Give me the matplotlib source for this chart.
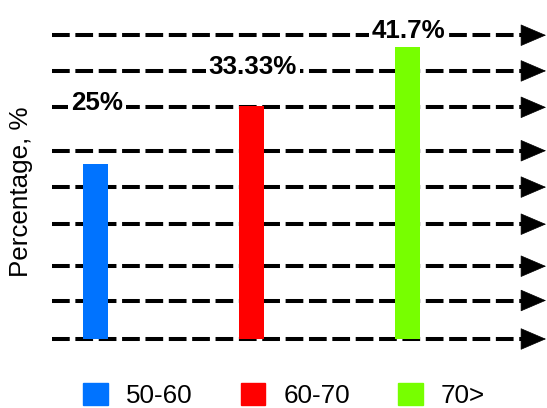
import matplotlib.pyplot as plt
from matplotlib.patches import Patch

# dados do gráfico
groups = ['50-60', '60-70', '70>']
percentages = [25, 33.33, 41.7]
value_labels = ['25%', '33.33%', '41.7%']
colors = ['#0073ff', '#ff0000', '#77ff00']
guide_levels = [0, 5.5, 10.4, 16.4, 21.7, 26.9, 33.1, 38.3, 43.4]

plt.rcParams['font.family'] = ['Liberation Sans', 'DejaVu Sans']

fig = plt.figure(figsize=(5.47, 4.08), dpi=100)
ax = fig.add_axes([52 / 547, 63 / 408, 495 / 547, 330 / 408])
ax.set_xlim(-0.279, 2.894)
ax.set_ylim(-0.857, 46.29)

# linhas tracejadas com setas
for y in guide_levels:
    ax.axhline(y, xmin=0, xmax=0.965, color='black', lw=2.9,
               dashes=(4.4, 1.4), zorder=1)
    ax.annotate('', xy=(0.998, y), xycoords=('axes fraction', 'data'),
                xytext=(-17.3, 0), textcoords='offset points',
                arrowprops=dict(arrowstyle='-|>,head_length=17.3,head_width=7.4',
                                mutation_scale=1, color='black', lw=0.5,
                                shrinkA=0, shrinkB=0),
                annotation_clip=False, zorder=1)

x = list(range(len(groups)))
ax.bar(x, percentages, width=0.16, color=colors, zorder=3)

# rótulos em cima das linhas
label_rows = [6, 7, 8]
for i, txt in enumerate(value_labels):
    ax.annotate(txt, xy=(x[i], guide_levels[label_rows[i]]),
                xytext=(1, 3), textcoords='offset points',
                ha='center', va='center', fontsize=18.7, fontweight='bold',
                zorder=4, bbox=dict(facecolor='white', edgecolor='none', pad=2))

ax.set_xticks([])
ax.set_yticks([])
for s in ax.spines.values():
    s.set_visible(False)

ax.set_ylabel('Percentage, %', fontsize=18.7, va='center')
ax.yaxis.set_label_coords(-0.063, 0.464)

handles = [Patch(color=c, label=g) for g, c in zip(groups, colors)]
fig.legend(handles=handles, loc='lower left', bbox_to_anchor=(83 / 547, 0.0),
           ncol=3, frameon=False, fontsize=18.7, handlelength=0.96,
           handleheight=0.96, handletextpad=0.69, columnspacing=1.85,
           borderpad=0, borderaxespad=0)

fig.savefig('out.png', dpi=100)
